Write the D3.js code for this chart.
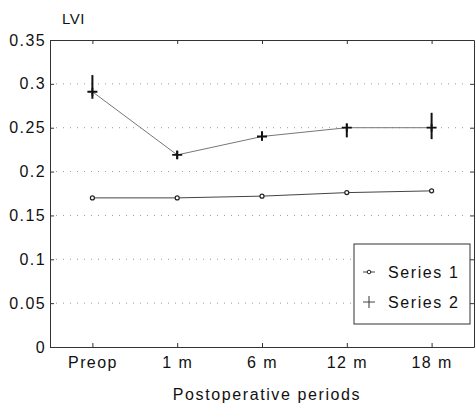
<!DOCTYPE html>
<html lang="en">
<head>
<meta charset="UTF-8">
<title>LVI by postoperative period</title>
<script src="https://d3js.org/d3.v7.min.js"></script>
<style>
  body { margin: 0; background: #fff; }
  text { font-family: "Liberation Sans", Arial, sans-serif; fill: #111; }
</style>
</head>
<body>
<script>
    // dane
    var periods = ["Preop", "1 m", "6 m", "12 m", "18 m"];
    var series1 = [0.170, 0.170, 0.172, 0.176, 0.178];
    var series2 = [0.291, 0.219, 0.240, 0.250, 0.250];
    var series2High = [0.310, 0.224, 0.246, 0.255, 0.267];
    var series2Low = [0.283, 0.214, 0.235, 0.239, 0.237];
    var yTicks = [0, 0.05, 0.1, 0.15, 0.2, 0.25, 0.3, 0.35];
    var seriesNames = ["Series 1", "Series 2"];

    var width = 475, height = 406;
    var margin = { top: 40, right: 1, bottom: 59, left: 50 };

    var svg = d3.select("body").append("svg")
        .attr("width", width)
        .attr("height", height);

    var x = d3.scalePoint()
        .domain(periods)
        .range([margin.left, width - margin.right])
        .padding(0.5);

    var y = d3.scaleLinear()
        .domain([0, 0.35])
        .range([height - margin.bottom, margin.top]);

    // siatka (kropkowana)
    svg.append("g")
        .selectAll("line")
        .data(yTicks.filter(function (t) { return t > 0 && t < 0.35; }))
        .enter().append("line")
        .attr("x1", margin.left + 6)
        .attr("x2", width - margin.right - 6)
        .attr("y1", function (d) { return y(d); })
        .attr("y2", function (d) { return y(d); })
        .attr("stroke", "#999")
        .attr("stroke-width", 1)
        .attr("stroke-dasharray", "1,6");

    // osie
    var axisL = svg.append("g")
        .attr("transform", "translate(" + margin.left + ",0)")
        .call(d3.axisLeft(y).tickValues(yTicks).tickSizeInner(-4).tickSizeOuter(0)
            .tickFormat(function (d) { return d === 0 ? "0" : String(+d.toFixed(2)); }));
    var axisB = svg.append("g")
        .attr("transform", "translate(0," + (height - margin.bottom) + ")")
        .call(d3.axisBottom(x).tickSizeInner(-4).tickSizeOuter(0));
    var axisT = svg.append("g")
        .attr("transform", "translate(0," + margin.top + ")")
        .call(d3.axisTop(x).tickSizeInner(-4).tickSizeOuter(0).tickFormat(""));
    var axisR = svg.append("g")
        .attr("transform", "translate(" + (width - margin.right) + ",0)")
        .call(d3.axisRight(y).tickValues(yTicks).tickSizeInner(-4).tickSizeOuter(0).tickFormat(""));

    [axisL, axisB, axisT, axisR].forEach(function (a) {
        a.selectAll("path, line").attr("stroke", "#333");
        a.selectAll("text")
            .style("font-family", "'Liberation Sans', Arial, sans-serif")
            .style("font-size", "16px")
            .style("letter-spacing", "1.4px")
            .attr("fill", "#111");
    });
    axisL.selectAll("text").attr("x", -4);
    axisB.selectAll("text").attr("y", 10);

    // linie
    var line = d3.line()
        .x(function (d, i) { return x(periods[i]); })
        .y(function (d) { return y(d); });

    svg.append("path")
        .datum(series1)
        .attr("d", line)
        .attr("fill", "none")
        .attr("stroke", "#444")
        .attr("stroke-width", 1);

    svg.append("path")
        .datum(series2)
        .attr("d", line)
        .attr("fill", "none")
        .attr("stroke", "#777")
        .attr("stroke-width", 1);

    // markery serii 1
    svg.selectAll("circle.s1")
        .data(series1)
        .enter().append("circle")
        .attr("class", "s1")
        .attr("cx", function (d, i) { return x(periods[i]); })
        .attr("cy", function (d) { return y(d); })
        .attr("r", 2)
        .attr("fill", "#fff")
        .attr("stroke", "#222")
        .attr("stroke-width", 1.2);

    // słupki błędów serii 2
    svg.selectAll("line.err")
        .data(series2)
        .enter().append("line")
        .attr("class", "err")
        .attr("x1", function (d, i) { return x(periods[i]); })
        .attr("x2", function (d, i) { return x(periods[i]); })
        .attr("y1", function (d, i) { return y(series2High[i]); })
        .attr("y2", function (d, i) { return y(series2Low[i]); })
        .attr("stroke", "#111")
        .attr("stroke-width", 2);

    // plusy serii 2
    svg.selectAll("path.plus")
        .data(series2)
        .enter().append("path")
        .attr("class", "plus")
        .attr("d", function (d, i) {
            var cx = x(periods[i]), cy = y(d);
            return "M" + (cx - 5) + "," + cy + "H" + (cx + 5) + "M" + cx + "," + (cy - 4) + "V" + (cy + 4);
        })
        .attr("stroke", "#111")
        .attr("stroke-width", 1.8);

    // tytuły osi
    svg.append("text")
        .attr("x", 62)
        .attr("y", 24)
        .style("font-size", "15px")
        .style("letter-spacing", "0.5px")
        .text("LVI");

    svg.append("text")
        .attr("x", 267)
        .attr("y", 400)
        .attr("text-anchor", "middle")
        .style("font-size", "16px")
        .style("letter-spacing", "1.6px")
        .text("Postoperative periods");

    // legenda
    var legend = svg.append("g").attr("transform", "translate(354,244)");
    legend.append("rect")
        .attr("width", 116)
        .attr("height", 80)
        .attr("fill", "#fff")
        .attr("stroke", "#333")
        .attr("stroke-width", 1);

    seriesNames.forEach(function (name, i) {
        var ly = 28 + i * 30;
        legend.append("line")
            .attr("x1", 9).attr("x2", 21)
            .attr("y1", ly).attr("y2", ly)
            .attr("stroke", "#444");
        if (i === 0) {
            legend.append("circle")
                .attr("cx", 15).attr("cy", ly).attr("r", 1.8)
                .attr("fill", "#fff").attr("stroke", "#222");
        } else {
            legend.append("line")
                .attr("x1", 15).attr("x2", 15)
                .attr("y1", ly - 6).attr("y2", ly + 6)
                .attr("stroke", "#333");
        }
        legend.append("text")
            .attr("x", 34)
            .attr("y", ly + 6)
            .style("font-size", "16px")
            .style("letter-spacing", "1.6px")
            .text(name);
    });
</script>
</body>
</html>
